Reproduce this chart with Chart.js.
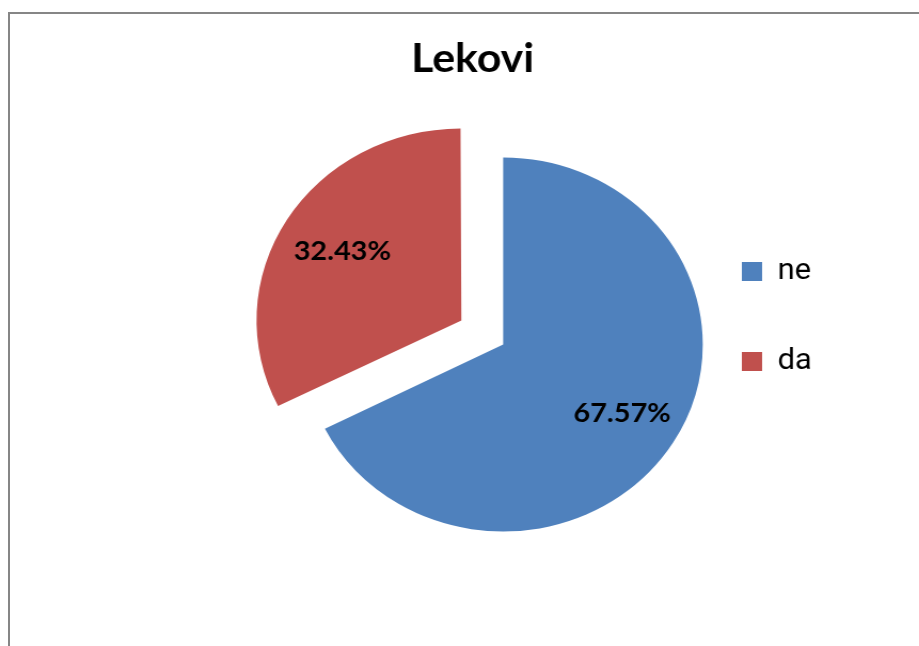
<!DOCTYPE html>
<html>
<head>
<meta charset="utf-8">
<script src="https://cdn.jsdelivr.net/npm/chart.js@4.4.0/dist/chart.umd.min.js"></script>
<style>
  html, body { margin: 0; padding: 0; background: #fff; width: 919px; height: 646px; overflow: hidden; }
  #frame { position: absolute; left: 8px; top: 12px; width: 930px; height: 650px;
           border-left: 2px solid #868686; border-top: 2px solid #868686; }
  #wrap { position: absolute; left: 0; top: 0; width: 861px; height: 646px;
          transform: scaleX(1.0674); transform-origin: 0 0; }
</style>
</head>
<body>
<div id="frame"></div>
<div id="wrap"><canvas id="c"></canvas></div>
<script>
// ---- data ----
const chartTitle = 'Lekovi';
const categories = ['ne', 'da'];
const percentValues = [67.57, 32.43];

// percentage labels inside slices
const pctLabels = {
  id: 'pctLabels',
  afterDatasetsDraw(chart) {
    const meta = chart.getDatasetMeta(0);
    const ds = chart.data.datasets[0];
    const ctx = chart.ctx;
    ctx.save();
    ctx.font = 'bold 27px Lato';
    ctx.fillStyle = '#000';
    ctx.textAlign = 'center';
    ctx.textBaseline = 'middle';
    meta.data.forEach((arc, i) => {
      const p = arc.getProps(['x', 'y', 'startAngle', 'endAngle', 'outerRadius'], true);
      const mid = (p.startAngle + p.endAngle) / 2;
      const off = (arc.options.offset || 0) / 4;
      const r = off + p.outerRadius * 0.70;
      ctx.fillText(ds.data[i].toFixed(2) + '%', p.x + Math.cos(mid) * r, p.y + Math.sin(mid) * r);
    });
    ctx.restore();
  }
};

// centre the title slightly left of the pie centre, as in the reference
const titleShift = {
  id: 'titleShift',
  afterLayout(chart) {
    const t = chart.titleBlock;
    if (!t) return;
    const ca = chart.chartArea;
    const c = (ca.left + ca.right) / 2 - 28.6;
    const w = t.right - t.left;
    t.left = c - w / 2;
    t.right = c + w / 2;
  }
};

new Chart(document.getElementById('c'), {
  type: 'pie',
  data: {
    labels: categories,
    datasets: [{
      data: percentValues,
      backgroundColor: ['#4F81BD', '#C0504D'],
      borderWidth: 0,
      offset: [0, 184],
      hoverOffset: 0,
      radius: 187,
      clip: false
    }]
  },
  options: {
    responsive: true,
    maintainAspectRatio: false,
    animation: false,
    layout: { padding: { left: 308.8, right: 90.4, top: 35, bottom: 48 } },
    plugins: {
      title: {
        display: true,
        text: chartTitle,
        color: '#000',
        font: { family: 'Lato', weight: 'bold', size: 40, lineHeight: 1.2 },
        padding: { top: 0, bottom: 8 }
      },
      legend: {
        position: 'right',
        align: 'center',
        labels: {
          boxWidth: 19,
          boxHeight: 19,
          padding: 61,
          color: '#000',
          font: { family: 'Roboto', size: 29 }
        }
      },
      tooltip: { enabled: false }
    }
  },
  plugins: [titleShift, pctLabels]
});
</script>
</body>
</html>
